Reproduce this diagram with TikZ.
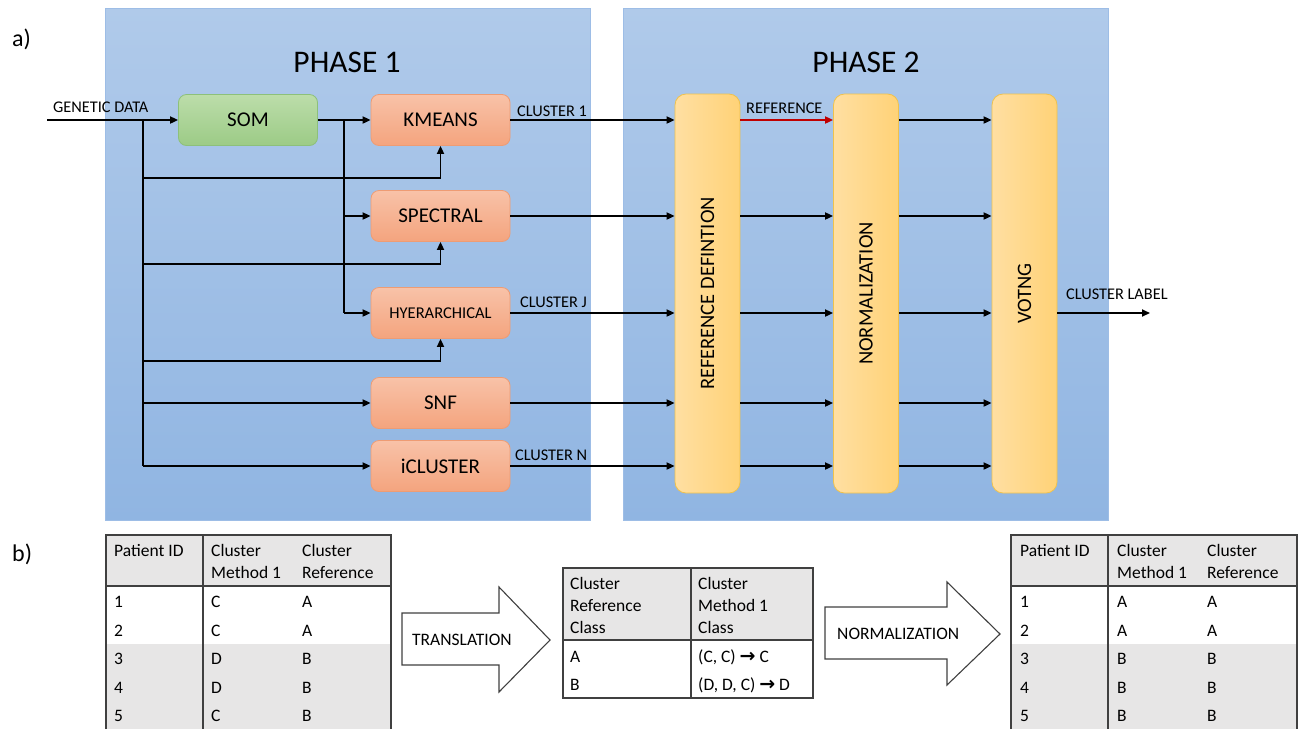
\documentclass[tikz,border=0pt]{standalone}
\usepackage{fontspec}
\setmainfont{Carlito}
\newfontfamily\symfont{DejaVu Sans}
\usetikzlibrary{arrows.meta}
\definecolor{pantop}{HTML}{B0CAEA}
\definecolor{panbot}{HTML}{90B5E2}
\definecolor{panborder}{HTML}{9DBDE6}
\definecolor{otop}{HTML}{F8C2A8}
\definecolor{obot}{HTML}{F4A47E}
\definecolor{oborder}{HTML}{EE9C74}
\definecolor{gtop}{HTML}{BCDDAA}
\definecolor{gbot}{HTML}{9CCB86}
\definecolor{gborder}{HTML}{8DC07A}
\definecolor{yleft}{HTML}{FFDFA2}
\definecolor{yright}{HTML}{FFD277}
\definecolor{yborder}{HTML}{F0C24C}
\definecolor{hdr}{HTML}{E7E6E6}
\definecolor{tline}{HTML}{404040}
\definecolor{refred}{HTML}{C00000}
\tikzset{
  panel/.style={draw=panborder, line width=0.8pt, top color=pantop, bottom color=panbot, minimum width=485pt, minimum height=512pt, inner sep=0pt},
  obox/.style={draw=oborder, line width=0.8pt, rounded corners=8pt, top color=otop, bottom color=obot, minimum width=139pt, minimum height=51pt, inner sep=0pt, font=\fontsize{21}{24}\selectfont},
  gbox/.style={obox, draw=gborder, top color=gtop, bottom color=gbot},
  ybox/.style={draw=yborder, line width=0.8pt, rounded corners=11pt, left color=yleft, right color=yright, minimum width=65pt, minimum height=399pt, inner sep=0pt},
  ylabel/.style={rotate=90, inner sep=0pt, font=\fontsize{20.5}{24}\selectfont},
  arr/.style={-{Triangle[length=8pt,width=7pt]}, line width=1.8pt},
  ln/.style={line width=1.8pt},
  small/.style={anchor=base west, inner sep=0pt, font=\fontsize{16.3}{19}\selectfont},
  tt/.style={anchor=base west, inner sep=0pt, font=\fontsize{17.5}{21}\selectfont},
  tl/.style={draw=tline, line width=1.1pt},
  barrow/.style={draw=tline, line width=1.1pt, fill=white},
  phase/.style={inner sep=0pt, font=\fontsize{31.5}{36}\selectfont},
  sub/.style={anchor=base west, inner sep=0pt, font=\fontsize{24}{28}\selectfont},
  rarr/.style={}
}
\newcommand{\tarrow}{{\symfont\bfseries\fontsize{19}{20}\selectfont →}}
\begin{document}
\begin{tikzpicture}[x=1pt,y=-1pt]
\useasboundingbox (0,0) rectangle (1300,729);
% panels
\node[panel] (p1) at (347.5,264) {};
\node[panel] (p2) at (865.5,264) {};
\node[phase] (p1t) at (347,62) {PHASE 1};
\node[phase] (p2t) at (866,62) {PHASE 2};
\node[sub] (la) at (12,46) {a)};
\node[sub] (lb) at (12,561) {b)};
% phase 1 boxes
\node[gbox] (som) at (248,120) {SOM};
\node[obox] (km) at (440.5,120) {KMEANS};
\node[obox] (sp) at (440.5,216) {SPECTRAL};
\node[obox, font=\fontsize{16.5}{20}\selectfont] (hy) at (440.5,313) {HYERARCHICAL};
\node[obox] (snf) at (440.5,403) {SNF};
\node[obox] (ic) at (440.5,466) {iCLUSTER};
% phase 2 boxes
\node[ybox] (rd) at (707.5,293.5) {};
\node[ybox] (nm) at (866,293.5) {};
\node[ybox] (vt) at (1024.5,293.5) {};
\node[ylabel] (rdt) at (rd.center) {REFERENCE DEFINTION};
\node[ylabel] (nmt) at (nm.center) {NORMALIZATION};
\node[ylabel] (vtt) at (vt.center) {VOTNG};
% input connectors
\coordinate (gin) at (47,120);
\node[small] (gdl) at (53,112) {GENETIC DATA};
\draw[arr] (gin) -- (som.west);
\coordinate (j1) at (143,120);
\coordinate (j1b) at (143,466);
\draw[ln] (j1) -- (j1b);
\coordinate (ja) at (143,178);
\coordinate (jb) at (143,264);
\coordinate (jc) at (143,361);
\draw[arr] (ja) -| (km.south);
\draw[arr] (jb) -| (sp.south);
\draw[arr] (jc) -| (hy.south);
\draw[arr] (j1 |- snf) -- (snf.west);
\draw[arr] (j1b) -- (ic.west);
\draw[arr] (som.east) -- (km.west);
\coordinate (j2) at (344,120);
\coordinate (j2b) at (344,313);
\draw[ln] (j2) -- (j2b);
\draw[arr] (j2 |- sp) -- (sp.west);
\draw[arr] (j2b) -- (hy.west);
% cluster outputs
\foreach \n in {km,sp,hy,snf,ic} {
  \draw[arr] (\n.east) -- (\n.east -| rd.west);
  \draw[arr] (nm.east |- \n) -- (vt.west |- \n);
}
\draw[arr, draw=refred, color=refred] (rd.east |- km) -- (nm.west |- km);
\foreach \n in {sp,hy,snf,ic} {
  \draw[arr] (rd.east |- \n) -- (nm.west |- \n);
}
\node[small] (c1) at (517,116) {CLUSTER 1};
\node[small] (cj) at (520,307) {CLUSTER J};
\node[small] (cn) at (515,460) {CLUSTER N};
\node[small] (refl) at (746,113) {REFERENCE};
\coordinate (out) at (1150,313);
\draw[arr] (vt.east |- out) -- (out);
\node[small] (cl) at (1066,299) {CLUSTER LABEL};
% ---------- table 1 ----------
\fill[hdr] (106,535) rectangle (391,586);
\fill[hdr] (106,644) rectangle (391,729);
\draw[tl] (106,729) -- (106,535) -- (391,535) -- (391,729);
\draw[tl] (106,586) -- (391,586);
\draw[tl] (203,535) -- (203,729);
\node[tt] (a11) at (114,556) {Patient ID};
\node[tt] (a12) at (211,556) {Cluster};
\node[tt] (a12b) at (211,578) {Method 1};
\node[tt] (a13) at (302,556) {Cluster};
\node[tt] (a13b) at (302,578) {Reference};
\foreach \i/\y/\m/\r in {1/607.5/C/A,2/636/C/A,3/664.5/D/B,4/693/D/B,5/721.5/C/B} {
  \node[tt] (ar\i a) at (114,\y) {\i};
  \node[tt] (ar\i b) at (211,\y) {\m};
  \node[tt] (ar\i c) at (302,\y) {\r};
}
% translation arrow
\draw[barrow] (402,613) -- (499,613) -- (499,587) -- (550,640) -- (499,692) -- (499,665) -- (402,665) -- cycle;
\node[tt] (trl) at (412,645.5) {TRANSLATION};
% ---------- table 2 ----------
\fill[hdr] (563,568) rectangle (813,640);
\draw[tl] (563,568) rectangle (813,698);
\draw[tl] (563,640) -- (813,640);
\draw[tl] (691,568) -- (691,698);
\node[tt] (b11) at (570,589) {Cluster};
\node[tt] (b11b) at (570,611) {Reference};
\node[tt] (b11c) at (570,633) {Class};
\node[tt] (b12) at (698,589) {Cluster};
\node[tt] (b12b) at (698,611) {Method 1};
\node[tt] (b12c) at (698,633) {Class};
\node[tt] (b21) at (570,662.5) {A};
\node[tt] (b22) at (698,662.5) {(C, C) \tarrow{} C};
\node[tt] (b31) at (570,690.5) {B};
\node[tt] (b32) at (698,690.5) {(D, D, C) \tarrow{} D};
% normalization arrow
\draw[barrow] (825,607) -- (947,607) -- (947,582) -- (1000,634) -- (947,685) -- (947,659) -- (825,659) -- cycle;
\node[tt] (nml) at (837,639.5) {NORMALIZATION};
% ---------- table 3 ----------
\fill[hdr] (1011,535) rectangle (1297,586);
\fill[hdr] (1011,644) rectangle (1297,729);
\draw[tl] (1011,729) -- (1011,535) -- (1297,535) -- (1297,729);
\draw[tl] (1011,586) -- (1297,586);
\draw[tl] (1108,535) -- (1108,729);
\node[tt] (c11) at (1020,556) {Patient ID};
\node[tt] (c12) at (1117,556) {Cluster};
\node[tt] (c12b) at (1117,578) {Method 1};
\node[tt] (c13) at (1207,556) {Cluster};
\node[tt] (c13b) at (1207,578) {Reference};
\foreach \i/\y/\m/\r in {1/607.5/A/A,2/636/A/A,3/664.5/B/B,4/693/B/B,5/721.5/B/B} {
  \node[tt] (cr\i a) at (1020,\y) {\i};
  \node[tt] (cr\i b) at (1117,\y) {\m};
  \node[tt] (cr\i c) at (1207,\y) {\r};
}
\end{tikzpicture}
\end{document}
